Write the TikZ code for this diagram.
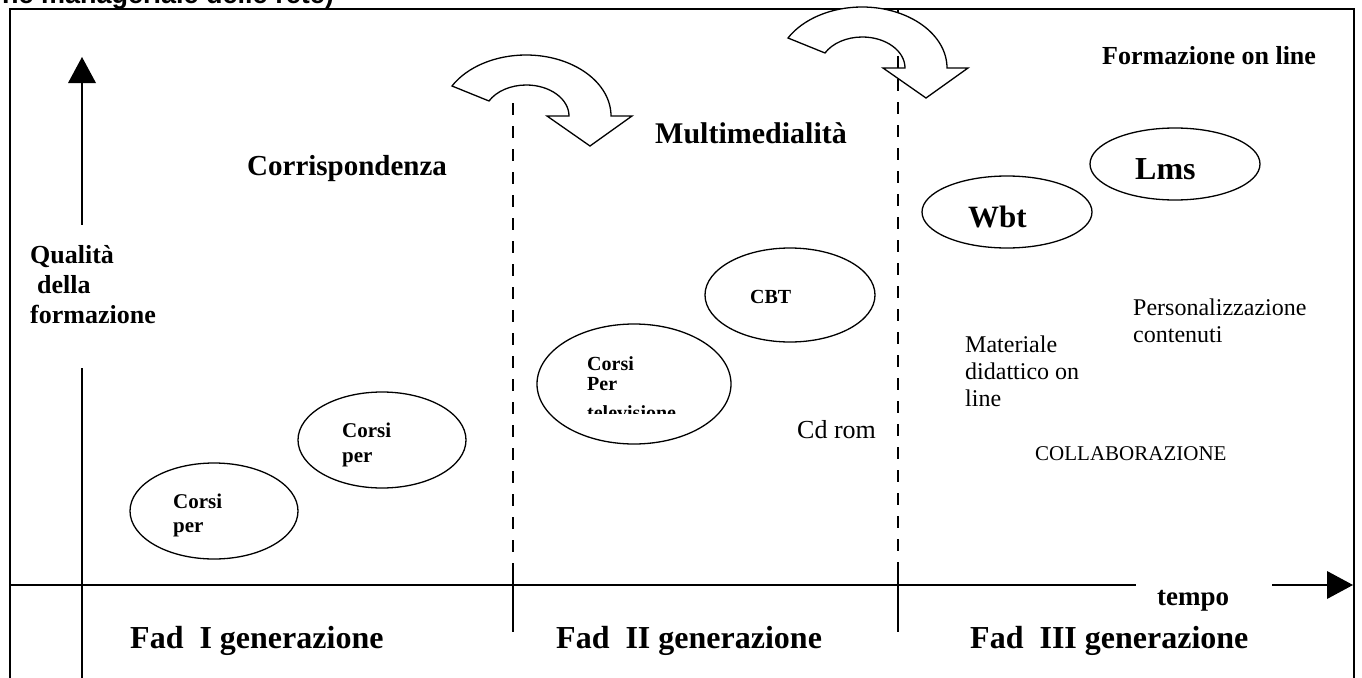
\documentclass[tikz,border=0pt]{standalone}
\usepackage{fontspec}
\setmainfont{Liberation Serif}
\newfontfamily\hdsans{Liberation Sans}
\usetikzlibrary{shapes.geometric}
\newcommand\setfs[2]{\fontsize{#1}{#2}\selectfont}
\tikzset{
  frameline/.style={line width=1.6pt},
  axisline/.style={line width=1.5pt},
  divline/.style={line width=1.5pt},
  dashline/.style={line width=1.8pt, dash pattern=on 12pt off 11pt},
  oval/.style={draw, ellipse, line width=1.3pt, inner sep=0pt},
  txt/.style={anchor=base west, inner sep=0pt, align=left},
  head/.style={txt, font=\bfseries\setfs{26}{30}},
  gen/.style={txt, font=\bfseries\setfs{32}{34}},
  bentarrow/.pic={
    \draw[line width=1.3pt, fill=white, line join=miter]
      (0,0) .. controls (15,-19.1) and (43.4,-31) .. (74,-31)
      .. controls (120.9,-31) and (159,-3.7) .. (159,30)
      -- (180,30) -- (138,60) -- (95,30) -- (117,30)
      .. controls (117,12.9) and (97.9,-1) .. (74.3,-1)
      .. controls (58.8,-1) and (44.5,5.1) .. (37,15)
      -- cycle;
  }
}
\begin{document}
\begin{tikzpicture}[x=1pt,y=-1pt]
\useasboundingbox (0,0) rectangle (1362,677);
\begin{scope}
\clip (0,0) rectangle (1362,677);
% partial heading at the top edge
\node[anchor=base east, inner sep=0pt, font=\hdsans\bfseries\setfs{27}{30}] (toptxt) at (334,4) {ne manageriale delle rete)};

% frame
\draw[frameline] (10,690) -- (10,9) -- (1354,9) -- (1354,690);

% vertical axis
\coordinate (ytop) at (82,57);
\coordinate (ya) at (82,83);
\coordinate (yb) at (82,225);
\coordinate (yc) at (82,368);
\coordinate (yd) at (82,690);
\draw[axisline] (ya) -- (yb);
\draw[axisline] (yc) -- (yd);
\fill (ytop) -- (68,83) -- (96,83) -- cycle;

% horizontal axis
\coordinate (xa) at (10,585);
\coordinate (xb) at (1136,585);
\coordinate (xc) at (1272,585);
\coordinate (xd) at (1328,585);
\coordinate (xtip) at (1353,585);
\draw[axisline] (xa) -- (xb);
\draw[axisline] (xc) -- (xd);
\fill (xtip) -- (1327,571) -- (1327,599) -- cycle;
\node[txt, font=\bfseries\setfs{27}{30}] (tempo) at (1157,605) {tempo};

% curved arrows
\pic at (452,86) {bentarrow};
\pic at (788,38) {bentarrow};

% dividers
\coordinate (d1a) at (513,103);
\coordinate (d1b) at (513,570);
\coordinate (d1c) at (513,632);
\draw[dashline] (d1a) -- (d1b);
\draw[divline] (d1b) -- (d1c);
\coordinate (d2t) at (898,9);
\coordinate (d2u) at (898,13);
\coordinate (d2a) at (898,56);
\coordinate (d2b) at (898,573);
\coordinate (d2c) at (898,632);
\draw[divline] (d2t) -- (d2u);
\draw[dashline] (d2a) -- (d2b);
\draw[divline] (d2b) -- (d2c);

% headings (multi-line nodes are placed by the baseline of their last line)
\node[txt, font=\bfseries\setfs{29}{32}] (corr) at (247,175) {Corrispondenza};
\node[txt, font=\bfseries\setfs{30}{32}] (multi) at (655,143) {Multimedialità};
\node[head] (fol) at (1102,64) {Formazione on line};
\node[head] (qual) at (30,323) {Qualità\\\hspace*{7pt}della\\formazione};

% ellipses
\node[oval, minimum width=168pt, minimum height=96pt] (e1) at (214,511) {};
\node[txt, font=\bfseries\setfs{21}{24}] (e1t) at (173,532) {Corsi\\per};
\node[oval, minimum width=168pt, minimum height=96pt] (e2) at (382,440) {};
\node[txt, font=\bfseries\setfs{21}{25}] (e2t) at (342,462) {Corsi\\per};
\node[oval, minimum width=194pt, minimum height=120pt] (e3) at (634,384) {};
\begin{scope}
\clip (560,340) rectangle (720,413);
\node[txt, font=\bfseries\setfs{20}{20}] (e3t) at (587,419) {Corsi\\Per\\[9pt]televisione};
\end{scope}
\node[oval, minimum width=170pt, minimum height=94pt] (cbt) at (790,295) {};
\node[txt, font=\bfseries\setfs{20}{24}] (cbtt) at (750,303) {CBT};
\node[oval, minimum width=170pt, minimum height=72pt] (wbt) at (1007,212) {};
\node[txt, font=\bfseries\setfs{31}{34}] (wbtt) at (968,227) {Wbt};
\node[oval, minimum width=170pt, minimum height=72pt] (lms) at (1175,164) {};
\node[txt, font=\bfseries\setfs{32}{34}] (lmst) at (1135,179) {Lms};

% plain texts
\node[txt, font=\setfs{26}{30}] (cd) at (797,438) {Cd rom};
\node[txt, font=\setfs{24}{27}] (pers) at (1133,342) {Personalizzazione\\contenuti};
\node[txt, font=\setfs{24}{27}] (mat) at (965,406) {Materiale\\didattico on\\line};
\node[txt, font=\setfs{21}{24}] (coll) at (1035,460) {COLLABORAZIONE};

% generations
\node[gen] (g1) at (130,648) {Fad\ \ I generazione};
\node[gen] (g2) at (556,648) {Fad\ \ II generazione};
\node[gen] (g3) at (970,648) {Fad\ \ III generazione};
\end{scope}
\end{tikzpicture}
\end{document}
